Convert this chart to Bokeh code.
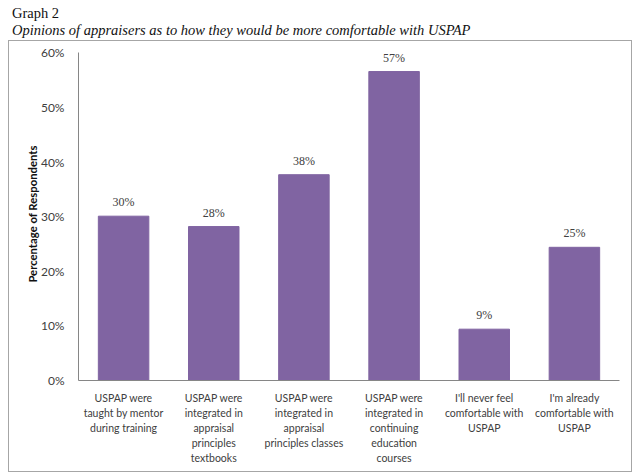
from bokeh.plotting import figure
from bokeh.models import ColumnDataSource, LabelSet, Div, FixedTicker
from bokeh.layouts import column
from bokeh.embed import file_html
from bokeh.resources import INLINE

categories = [
    "USPAP were\ntaught by mentor\nduring training",
    "USPAP were\nintegrated in\nappraisal\nprinciples\ntextbooks",
    "USPAP were\nintegrated in\nappraisal\nprinciples classes",
    "USPAP were\nintegrated in\ncontinuing\neducation\ncourses",
    "I'll never feel\ncomfortable with\nUSPAP",
    "I'm already\ncomfortable with\nUSPAP",
]
values = [30.1, 28.2, 37.7, 56.6, 9.4, 24.4]
value_labels = ["30%", "28%", "38%", "57%", "9%", "25%"]
y_ticks = [0, 10, 20, 30, 40, 50, 60]

FONT = "Lato"
TXT = "#404040"

src = ColumnDataSource(dict(cat=categories, val=values, lab=value_labels))

header = Div(
    text='<div style="font-family:\'Liberation Serif\',serif;font-size:14.5px;color:#111;'
         'line-height:17px;padding:5px 0 0 12px;">'
         'Graph 2<br><i>Opinions of appraisers as to how they would be more comfortable with USPAP</i></div>',
    width=640, height=41, margin=(0, 0, 0, 0),
)

p = figure(
    x_range=categories, y_range=(0, 61),
    width=622, height=430,
    output_backend="svg", toolbar_location=None,
    min_border_left=69, min_border_right=12, min_border_top=6, min_border_bottom=91,
    margin=(0, 0, 0, 9),
    styles={"outline": "1px solid #a6a6a6", "outline-offset": "0px"},
)
p.vbar(x="cat", top="val", width=0.56, source=src, fill_color="#8064A2", line_color="#8064A2")

labels = LabelSet(x="cat", y="val", text="lab", source=src, y_offset=7,
                  text_align="center", text_baseline="bottom",
                  text_font_size="12px", text_color=TXT, text_font=FONT)
p.add_layout(labels)

p.xgrid.grid_line_color = None
p.ygrid.grid_line_color = None
p.outline_line_color = None

p.yaxis.ticker = FixedTicker(ticks=y_ticks)
p.yaxis.bounds = (0, 60)
p.yaxis.major_label_overrides = {t: f"{t}%" for t in y_ticks}
p.yaxis.axis_line_color = "#868686"
p.yaxis.major_tick_line_color = None
p.yaxis.minor_tick_line_color = None
p.yaxis.major_label_text_font = FONT
p.yaxis.major_label_text_font_size = "12px"
p.yaxis.major_label_text_color = TXT
p.yaxis.major_label_standoff = 8
p.yaxis.axis_label = "Percentage of Respondents"
p.yaxis.axis_label_text_font = FONT
p.yaxis.axis_label_text_font_style = "bold"
p.yaxis.axis_label_text_font_size = "11.3px"
p.yaxis.axis_label_text_color = "#111111"
p.yaxis.axis_label_standoff = -1

p.xaxis.axis_line_color = "#868686"
p.xaxis.major_tick_line_color = None
p.xaxis.minor_tick_line_color = None
p.xaxis.major_label_text_font = FONT
p.xaxis.major_label_text_font_size = "10.5px"
p.xaxis.major_label_text_color = TXT
p.xaxis.major_label_standoff = 5
p.xaxis.major_label_text_line_height = 1.25

layout = column(header, p, margin=(0, 0, 0, 0), spacing=0)

open("out.html", "w").write(file_html(layout, INLINE))
